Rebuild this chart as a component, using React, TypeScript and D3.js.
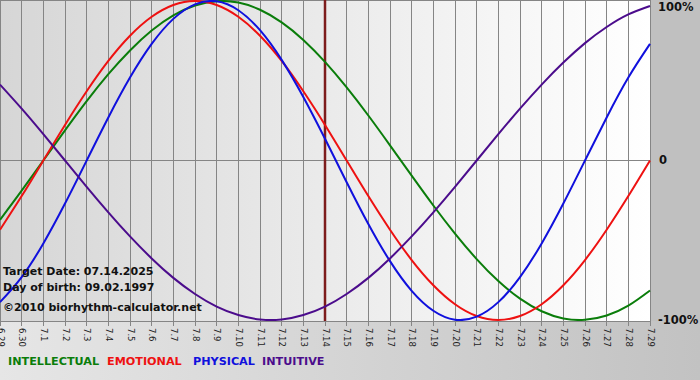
import React from "react";
import * as d3 from "d3";

const dayLabels = ["6.29","6.30","7.1","7.2","7.3","7.4","7.5","7.6","7.7","7.8","7.9","7.10","7.11","7.12","7.13","7.14","7.15","7.16","7.17","7.18","7.19","7.20","7.21","7.22","7.23","7.24","7.25","7.26","7.27","7.28","7.29"];

const intellectual = [-0.372,-0.189,0,0.189,0.372,0.541,0.690,0.815,0.910,0.972,0.999,0.990,0.945,0.866,0.756,0.618,0.458,0.282,0.095,-0.095,-0.282,-0.458,-0.618,-0.756,-0.866,-0.945,-0.990,-0.999,-0.972,-0.910,-0.815];
const emotional = [-0.434,-0.223,0,0.223,0.434,0.624,0.782,0.901,0.975,1.0,0.975,0.901,0.782,0.624,0.434,0.223,0,-0.223,-0.434,-0.624,-0.782,-0.901,-0.975,-1.0,-0.975,-0.901,-0.782,-0.624,-0.434,-0.223,0];
const physical = [-0.888,-0.731,-0.520,-0.270,0,0.270,0.520,0.731,0.888,0.979,0.998,0.942,0.817,0.631,0.398,0.136,-0.136,-0.398,-0.631,-0.817,-0.942,-0.998,-0.979,-0.888,-0.731,-0.520,-0.270,0,0.270,0.520,0.731];
const intuitive = [0.476,0.325,0.165,0,-0.165,-0.325,-0.476,-0.614,-0.736,-0.837,-0.916,-0.969,-0.997,-0.997,-0.969,-0.916,-0.837,-0.736,-0.614,-0.476,-0.325,-0.165,0,0.165,0.325,0.476,0.614,0.736,0.837,0.916,0.969];

const targetIndex = 15;
const yTicks = [{ v: 1, label: "100%" }, { v: 0, label: "0" }, { v: -1, label: "-100%" }];

const series = [
  { name: "INTELLECTUAL", values: intellectual, color: "#0a7d0a" },
  { name: "EMOTIONAL", values: emotional, color: "#ee1111" },
  { name: "PHYSICAL", values: physical, color: "#1010dd" },
  { name: "INTUITIVE", values: intuitive, color: "#4b0c8c" },
];

const infoLines = ["Target Date: 07.14.2025", "Day of birth: 09.02.1997", "©2010 biorhythm-calculator.net"];

export default function App() {
  const W = 700, H = 380;
  const plotW = 650, plotB = 321;
  const x = d3.scaleLinear().domain([0, dayLabels.length - 1]).range([0, plotW]);
  const y = d3.scaleLinear().domain([-1, 1]).range([320, 1]);
  const line = d3.line<number>().x((_, i) => x(i)).y((d) => y(d)).curve(d3.curveNatural);
  const font = "'DejaVu Sans', Verdana, sans-serif";
  const legendX = [8, 107, 193, 262];

  return (
    <svg width={W} height={H} style={{ position: "absolute", left: 0, top: 0, display: "block" }}>
      <defs>
        <linearGradient id="plotbg" x1="0" x2="1" y1="0" y2="0">
          <stop offset="0" stopColor="#d6d6d6" />
          <stop offset="1" stopColor="#ffffff" />
        </linearGradient>
        <linearGradient id="botbg" x1="0" x2="1" y1="0" y2="0">
          <stop offset="0" stopColor="#e6e6e6" />
          <stop offset="1" stopColor="#c2c2c2" />
        </linearGradient>
        <clipPath id="plotclip">
          <rect x={0} y={0} width={plotW + 1} height={plotB} />
        </clipPath>
      </defs>
      <rect x={0} y={0} width={W} height={H} fill="url(#botbg)" />
      <rect x={plotW} y={0} width={W - plotW} height={plotB} fill="#c0c0c0" />
      <rect x={0} y={0} width={plotW} height={plotB} fill="url(#plotbg)" />
      {dayLabels.map((_, i) => (
        <line key={"g" + i} x1={x(i)} x2={x(i)} y1={0} y2={plotB + 5} stroke="#858585" strokeWidth={1} shapeRendering="crispEdges" />
      ))}
      <line x1={0} x2={plotW} y1={0.5} y2={0.5} stroke="#858585" />
      <line x1={0} x2={plotW} y1={y(0)} y2={y(0)} stroke="#858585" shapeRendering="crispEdges" />
      <line x1={0} x2={plotW} y1={plotB} y2={plotB} stroke="#858585" shapeRendering="crispEdges" />
      {dayLabels.map((d, i) => (
        <text key={"l" + i} transform={`translate(${x(i)},${plotB + 7}) rotate(90)`} fontFamily={font} fontSize={8.5} fill="#222" dominantBaseline="middle" textAnchor="start">{d}</text>
      ))}
      <line x1={x(targetIndex)} x2={x(targetIndex)} y1={0} y2={plotB} stroke="#7d1c1c" strokeWidth={2.5} />
      <g clipPath="url(#plotclip)">
        {series.map((s) => (
          <path key={s.name} d={line(s.values) || ""} fill="none" stroke={s.color} strokeWidth={2} />
        ))}
      </g>
      {infoLines.map((t, i) => (
        <text key={"i" + i} x={3} y={[275, 291, 311][i]} fontFamily={font} fontWeight="bold" fontSize={11} fill="#111">{t}</text>
      ))}
      {yTicks.map((t) => (
        <text key={t.label} x={t.v === 0 ? 659 : 658} y={y(t.v) + (t.v === 1 ? 6 : 0)} fontFamily={font} fontWeight="bold" fontSize={11.5} fill="#111" dominantBaseline="middle">{t.label}</text>
      ))}
      {series.map((s, i) => (
        <text key={"lg" + s.name} x={legendX[i]} y={365} fontFamily={font} fontWeight="bold" fontSize={11.2} fill={s.color}>{s.name}</text>
      ))}
    </svg>
  );
}
